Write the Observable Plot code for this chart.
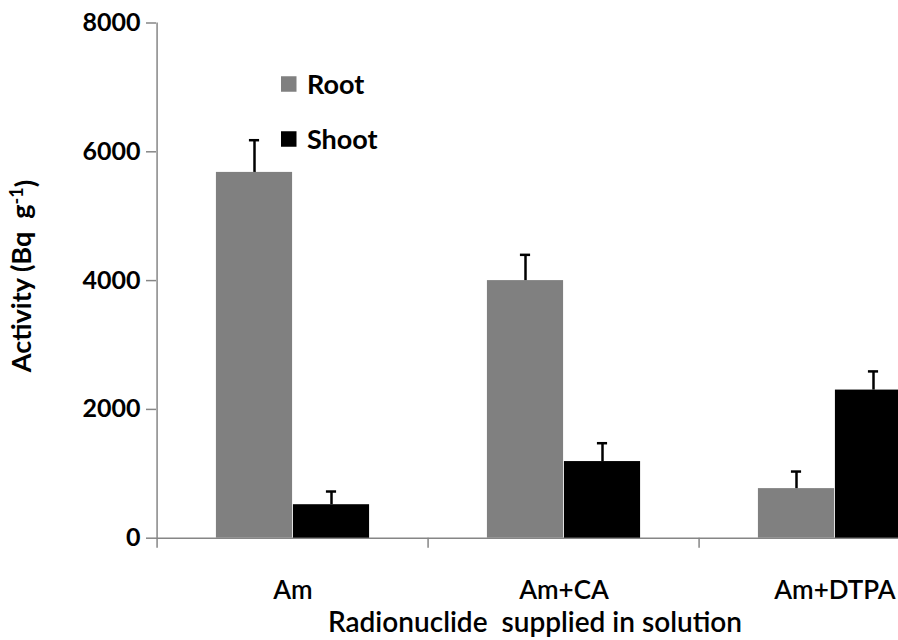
<!DOCTYPE html>
<html>
<head>
<meta charset="utf-8">
<script src="https://cdn.jsdelivr.net/npm/d3@7"></script>
<script src="https://cdn.jsdelivr.net/npm/@observablehq/plot@0.6"></script>
<style>
  html, body { margin: 0; padding: 0; background: #fff; overflow: hidden; }
  #chart { width: 898px; height: 640px; }
</style>
</head>
<body>
<div id="chart"></div>
<script>
// ---- data ----
const categories = ["Am", "Am+CA", "Am+DTPA"];
const seriesNames = ["Root", "Shoot"];
const rootValues = [5680, 4000, 770];
const rootErrors = [500, 400, 265];
const shootValues = [520, 1190, 2300];
const shootErrors = [205, 285, 290];
const yTicks = [0, 2000, 4000, 6000, 8000];
const seriesColors = ["#808080", "#000000"];

const rows = [];
categories.forEach((c, i) => {
  rows.push({category: c, series: "Root", value: rootValues[i], err: rootErrors[i]});
  rows.push({category: c, series: "Shoot", value: shootValues[i], err: shootErrors[i]});
});

// ---- layout ----
const W = 898, H = 640;
const mLeft = 156, mTop = 22.5, mBottom = 102.3;
const xRange = [156, 971.5];           // band scale extends past right edge (clipped as in original)
const bw = (xRange[1] - xRange[0]) / categories.length;
const barW = 77;
const groupOffset = (bw - 2 * barW) / 2;
const capW = 11;
const axisGray = "#868686";

const root = rows.filter(d => d.series === "Root");
const shoot = rows.filter(d => d.series === "Shoot");

const plot = Plot.plot({
  width: W, height: H,
  marginLeft: mLeft, marginTop: mTop, marginBottom: mBottom, marginRight: 0,
  style: {fontFamily: "Lato, sans-serif", fontSize: "26px", color: "black", background: "white", overflow: "hidden"},
  x: {domain: categories, range: xRange, padding: 0, label: null, tickSize: 0, tickPadding: 42},
  y: {domain: [0, 8000], ticks: yTicks, tickFormat: d3.format("d"), tickSize: 10, tickPadding: 6, label: null},
  marks: [
    Plot.ruleY([0], {stroke: axisGray, strokeWidth: 1.5}),
    Plot.ruleX([categories[0]], {x: d => d, dx: -bw / 2, y1: 8000, y2: 0, insetBottom: -10, stroke: axisGray, strokeWidth: 1.5}),
    Plot.ruleX(categories.slice(1), {x: d => d, dx: -bw / 2, y1: 0, y2: 0, insetBottom: -10, stroke: axisGray, strokeWidth: 1.5}),
    Plot.barY(root, {x: "category", y: "value", fill: seriesColors[0], insetLeft: groupOffset, insetRight: bw - groupOffset - barW}),
    Plot.barY(shoot, {x: "category", y: "value", fill: seriesColors[1], insetLeft: groupOffset + barW, insetRight: groupOffset}),
    Plot.ruleX(root, {x: "category", y1: "value", y2: d => d.value + d.err, dx: -barW / 2, stroke: "black", strokeWidth: 2.5}),
    Plot.ruleX(shoot, {x: "category", y1: "value", y2: d => d.value + d.err, dx: barW / 2, stroke: "black", strokeWidth: 2.5}),
    Plot.tickY(root, {x: "category", y: d => d.value + d.err, dx: -barW / 2, insetLeft: (bw - capW) / 2, insetRight: (bw - capW) / 2, stroke: "black", strokeWidth: 2.5}),
    Plot.tickY(shoot, {x: "category", y: d => d.value + d.err, dx: barW / 2, insetLeft: (bw - capW) / 2, insetRight: (bw - capW) / 2, stroke: "black", strokeWidth: 2.5})
  ]
});

const svg = d3.select(plot);
svg.selectAll('g[aria-label="y-axis tick"] path').attr("stroke", axisGray).attr("stroke-width", 1.5);
svg.selectAll('g[aria-label="y-axis tick label"]').attr("font-weight", "bold").attr("font-size", 25);
svg.selectAll('g[aria-label="x-axis tick label"]').attr("font-size", 26).attr("font-weight", 600);

// y-axis title with superscript
const yt = svg.append("text")
  .attr("transform", "translate(31,276) rotate(-90)")
  .attr("text-anchor", "middle")
  .attr("font-family", "Lato, sans-serif")
  .attr("font-size", 27)
  .attr("font-weight", "bold")
  .attr("fill", "black")
  .style("white-space", "pre");
yt.append("tspan").text("Activity (Bq  g");
yt.append("tspan").attr("dy", "-0.45em").attr("font-size", 18).text("-1");
yt.append("tspan").attr("dy", "0.45em").text(")");

// x-axis title
svg.append("text")
  .attr("x", 535).attr("y", 632)
  .attr("text-anchor", "middle")
  .attr("font-family", "Lato, sans-serif")
  .attr("font-size", 28)
  .attr("font-weight", 600)
  .attr("fill", "black")
  .style("white-space", "pre")
  .text("Radionuclide  supplied in solution");

// legend
const legend = svg.append("g").attr("font-family", "Lato, sans-serif").attr("font-size", 27).attr("font-weight", "bold").attr("text-anchor", "start");
seriesNames.forEach((s, i) => {
  const cy = 84 + i * 55;
  legend.append("rect").attr("x", 281).attr("y", cy - 7.75).attr("width", 15.5).attr("height", 15.5).attr("fill", seriesColors[i]);
  legend.append("text").attr("x", 307).attr("y", cy).attr("dy", "0.36em").attr("fill", "black").text(s);
});

document.getElementById("chart").appendChild(plot);
</script>
</body>
</html>
